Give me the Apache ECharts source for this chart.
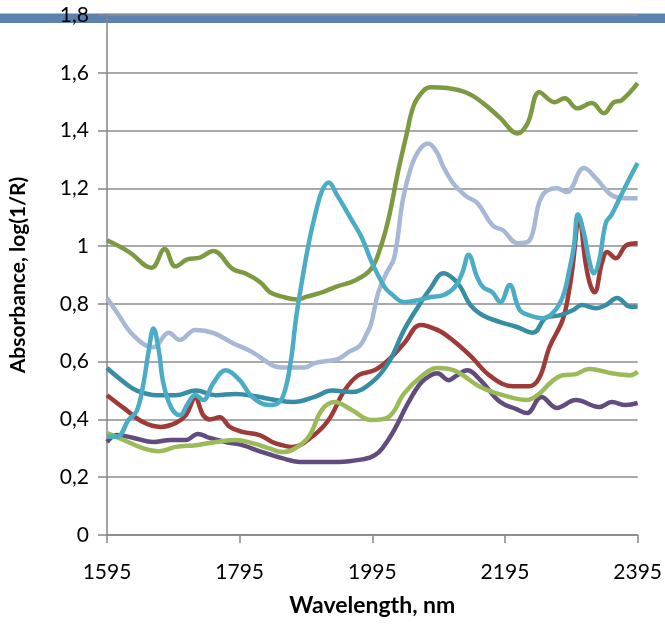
<!DOCTYPE html>
<html><head><meta charset="utf-8">
<script src="https://cdn.jsdelivr.net/npm/echarts@6/dist/echarts.min.js"></script>
<style>html,body{margin:0;padding:0;background:#fff}#c{width:665px;height:624px}</style>
</head><body><div id="c"></div>
<script>
// Data: [wavelength nm, absorbance]
const xTicks = [1595, 1795, 1995, 2195, 2395];
const yTicks = [0, 0.2, 0.4, 0.6, 0.8, 1, 1.2, 1.4, 1.6, 1.8];

const lavender = [[1595,0.82],[1610,0.77],[1635,0.69],[1665,0.65],[1688,0.70],[1705,0.675],[1728,0.71],[1755,0.70],[1785,0.664],[1814,0.633],[1844,0.588],[1859,0.58],[1893,0.58],[1908,0.595],[1944,0.61],[1959,0.633],[1976,0.655],[1985,0.69],[1993,0.73],[2004,0.84],[2016,0.905],[2028,0.96],[2041,1.16],[2053,1.27],[2065,1.33],[2079,1.355],[2091,1.33],[2102,1.275],[2116,1.22],[2128,1.19],[2138,1.17],[2153,1.15],[2177,1.07],[2192,1.055],[2214,1.01],[2232,1.02],[2250,1.17],[2273,1.20],[2288,1.187],[2314,1.27],[2332,1.235],[2356,1.176],[2377,1.166],[2395,1.166]];
const olive = [[1595,1.02],[1628,0.98],[1662,0.925],[1682,0.99],[1698,0.93],[1717,0.955],[1735,0.96],[1755,0.983],[1785,0.92],[1804,0.905],[1826,0.875],[1841,0.84],[1859,0.825],[1882,0.815],[1896,0.825],[1919,0.84],[1941,0.86],[1968,0.88],[1993,0.92],[2008,1.0],[2020,1.10],[2034,1.26],[2046,1.38],[2058,1.49],[2073,1.54],[2083,1.55],[2108,1.547],[2138,1.53],[2162,1.495],[2188,1.443],[2214,1.39],[2229,1.425],[2247,1.533],[2270,1.498],[2285,1.512],[2304,1.477],[2326,1.495],[2344,1.46],[2359,1.498],[2371,1.505],[2395,1.564]];
const purple = [[1595,0.322],[1610,0.346],[1635,0.336],[1665,0.322],[1691,0.329],[1714,0.329],[1732,0.35],[1750,0.336],[1774,0.322],[1799,0.311],[1829,0.287],[1859,0.266],[1885,0.253],[1944,0.253],[1983,0.263],[1998,0.275],[2010,0.30],[2028,0.363],[2049,0.457],[2068,0.526],[2083,0.553],[2093,0.56],[2110,0.536],[2123,0.553],[2138,0.57],[2158,0.536],[2188,0.46],[2213,0.435],[2228,0.422],[2250,0.478],[2273,0.44],[2302,0.467],[2337,0.443],[2356,0.46],[2377,0.45],[2395,0.457]];
const red = [[1595,0.484],[1620,0.44],[1650,0.39],[1676,0.374],[1699,0.388],[1714,0.415],[1728,0.474],[1740,0.415],[1750,0.40],[1765,0.408],[1780,0.374],[1799,0.357],[1825,0.346],[1844,0.322],[1859,0.311],[1874,0.305],[1904,0.34],[1929,0.398],[1953,0.50],[1974,0.553],[1998,0.57],[2019,0.605],[2043,0.664],[2068,0.727],[2093,0.71],[2113,0.68],[2143,0.62],[2173,0.55],[2207,0.515],[2232,0.515],[2247,0.545],[2262,0.65],[2282,0.745],[2292,0.85],[2297,0.93],[2307,1.10],[2316,0.95],[2323,0.87],[2330,0.84],[2341,0.94],[2349,0.98],[2362,0.958],[2378,1.003],[2395,1.01]];
const lightGreen = [[1595,0.353],[1620,0.329],[1650,0.30],[1673,0.29],[1699,0.305],[1729,0.311],[1759,0.322],[1789,0.329],[1814,0.318],[1840,0.30],[1859,0.287],[1874,0.294],[1899,0.34],[1919,0.433],[1938,0.46],[1964,0.433],[1993,0.398],[2019,0.408],[2043,0.49],[2068,0.547],[2093,0.578],[2118,0.57],[2158,0.512],[2192,0.484],[2228,0.467],[2247,0.49],[2265,0.53],[2282,0.553],[2300,0.556],[2322,0.575],[2356,0.56],[2384,0.553],[2395,0.565]];
const teal = [[1595,0.578],[1620,0.53],[1640,0.50],[1670,0.484],[1699,0.484],[1729,0.50],[1759,0.484],[1789,0.488],[1819,0.48],[1849,0.467],[1876,0.46],[1908,0.478],[1934,0.50],[1964,0.495],[1993,0.526],[2019,0.595],[2043,0.71],[2064,0.79],[2083,0.855],[2102,0.906],[2116,0.89],[2128,0.858],[2143,0.796],[2162,0.76],[2188,0.737],[2213,0.72],[2237,0.70],[2258,0.754],[2277,0.76],[2297,0.778],[2311,0.796],[2332,0.785],[2347,0.796],[2364,0.82],[2384,0.79],[2395,0.79]];
const cyan = [[1595,0.34],[1610,0.34],[1628,0.40],[1640,0.43],[1650,0.525],[1658,0.64],[1665,0.715],[1673,0.64],[1680,0.525],[1692,0.44],[1705,0.415],[1717,0.455],[1728,0.485],[1740,0.467],[1755,0.525],[1774,0.57],[1795,0.536],[1814,0.478],[1840,0.45],[1852,0.455],[1862,0.49],[1872,0.6],[1880,0.75],[1889,0.88],[1900,1.02],[1910,1.12],[1919,1.19],[1929,1.22],[1941,1.18],[1964,1.09],[1979,1.03],[1993,0.95],[2013,0.86],[2023,0.836],[2043,0.806],[2064,0.813],[2083,0.824],[2102,0.83],[2120,0.86],[2131,0.91],[2140,0.97],[2153,0.893],[2162,0.858],[2176,0.84],[2188,0.806],[2202,0.865],[2217,0.78],[2232,0.76],[2252,0.75],[2267,0.768],[2282,0.824],[2292,0.917],[2299,1.0],[2305,1.11],[2314,1.045],[2322,0.95],[2329,0.906],[2337,0.95],[2347,1.08],[2356,1.11],[2371,1.18],[2384,1.24],[2395,1.287]];

const fmtY = v => String(Math.round(v * 10) / 10).replace('.', ',');
const FONT = 'Lato';
const mk = (name, data, color) => ({
  name, type: 'line', data, smooth: 0.4, showSymbol: false,
  lineStyle: { color, width: 4.5 }, itemStyle: { color }
});

const chart = echarts.init(document.getElementById('c'), null, { renderer: 'canvas' });
chart.setOption({
  animation: false,
  backgroundColor: '#ffffff',
  grid: { left: 103, right: 27, top: 15, bottom: 89, containLabel: false },
  graphic: [
    { type: 'rect', z: -5, silent: true, shape: { x: 0, y: 14, width: 665, height: 9 }, style: { fill: '#5B81AE' } },
    { type: 'rect', z: -5, silent: true, shape: { x: 0, y: 13, width: 665, height: 1 }, style: { fill: '#A9BEDA' } }
  ],
  xAxis: {
    type: 'value', min: xTicks[0], max: xTicks[xTicks.length - 1], interval: 200,
    name: 'Wavelength, nm', nameLocation: 'middle', nameGap: 59,
    nameTextStyle: { fontFamily: FONT, fontWeight: 'bold', fontSize: 23, color: '#000' },
    axisLine: { lineStyle: { color: '#868686', width: 1.5 } },
    axisTick: { length: 8, lineStyle: { color: '#868686', width: 1.5 } },
    axisLabel: { fontFamily: FONT, fontSize: 21, color: '#000', margin: 27, formatter: v => String(v) },
    splitLine: { show: false }
  },
  yAxis: {
    type: 'value', min: 0, max: 1.8, interval: 0.2,
    name: 'Absorbance, log(1/R)', nameLocation: 'middle', nameGap: 78, nameRotate: 90,
    nameTextStyle: { fontFamily: FONT, fontWeight: 'bold', fontSize: 21, color: '#000' },
    axisLine: { show: true, lineStyle: { color: '#868686', width: 1.5 } },
    axisTick: { show: true, length: 9, lineStyle: { color: '#868686', width: 1.5 } },
    axisLabel: { fontFamily: FONT, fontSize: 21, color: '#000', margin: 18, formatter: fmtY },
    splitLine: { show: true, lineStyle: { color: '#8C8C8C', width: 1.5 } }
  },
  series: [
    mk('s1', lavender, '#A7B8D7'),
    mk('s2', olive, '#7D9A43'),
    mk('s3', purple, '#624B7E'),
    mk('s4', red, '#9E3B38'),
    mk('s5', lightGreen, '#9BBB59'),
    mk('s6', teal, '#378DA3'),
    mk('s7', cyan, '#4BACC6')
  ]
});
</script></body></html>
